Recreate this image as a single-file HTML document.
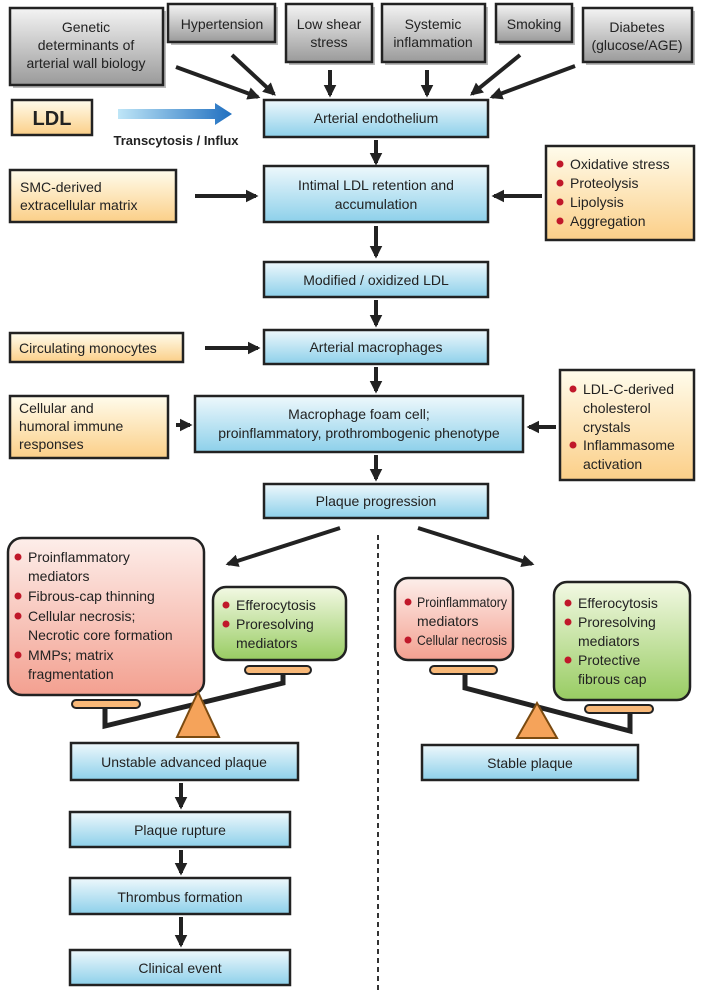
<!DOCTYPE html>
<html><head><meta charset="utf-8"><style>body{margin:0;background:#fff}svg{display:block}text{font-family:"Liberation Sans",sans-serif;font-size:14px;fill:#222}</style></head><body>
<svg width="707" height="1000" viewBox="0 0 707 1000" xmlns="http://www.w3.org/2000/svg">
<defs>
<linearGradient id="bl" x1="0" y1="0" x2="0" y2="1"><stop offset="0" stop-color="#eef8fc"/><stop offset="1" stop-color="#8dd0ea"/></linearGradient>
<linearGradient id="gr" x1="0" y1="0" x2="0" y2="1"><stop offset="0" stop-color="#f4f4f4"/><stop offset="1" stop-color="#9a9a9a"/></linearGradient>
<linearGradient id="ye" x1="0" y1="0" x2="0" y2="1"><stop offset="0" stop-color="#fffcec"/><stop offset="1" stop-color="#fbcf88"/></linearGradient>
<linearGradient id="rd" x1="0" y1="0" x2="0" y2="1"><stop offset="0" stop-color="#fdeeea"/><stop offset="1" stop-color="#f3a090"/></linearGradient>
<linearGradient id="gn" x1="0" y1="0" x2="0" y2="1"><stop offset="0" stop-color="#f3f9e4"/><stop offset="1" stop-color="#98cc62"/></linearGradient>
<linearGradient id="ar" x1="0" y1="0" x2="1" y2="0"><stop offset="0" stop-color="#bfe6f7"/><stop offset="1" stop-color="#1f6fc0"/></linearGradient>
<marker id="m" viewBox="0 0 10 10" refX="8" refY="5" markerWidth="3.2" markerHeight="3.2" orient="auto"><path d="M0,0L10,5L0,10z" fill="#222"/></marker>
</defs>
<g stroke="#222" stroke-width="2.5">
<g fill="#bbb" stroke="none">
<rect x="13" y="11" width="153" height="77"/><rect x="171" y="7" width="107" height="38"/><rect x="289" y="7" width="86" height="58"/><rect x="385" y="7" width="103" height="58"/><rect x="499" y="7" width="76" height="38"/><rect x="586" y="11" width="109" height="54"/>
</g>
<rect x="10" y="8" width="153" height="77" fill="url(#gr)"/>
<rect x="168" y="4" width="107" height="38" fill="url(#gr)"/>
<rect x="286" y="4" width="86" height="58" fill="url(#gr)"/>
<rect x="382" y="4" width="103" height="58" fill="url(#gr)"/>
<rect x="496" y="4" width="76" height="38" fill="url(#gr)"/>
<rect x="583" y="8" width="109" height="54" fill="url(#gr)"/>
<rect x="12" y="100" width="80" height="35" fill="url(#ye)"/>
<rect x="10" y="170" width="166" height="52" fill="url(#ye)"/>
<rect x="546" y="146" width="148" height="94" fill="url(#ye)"/>
<rect x="10" y="333" width="173" height="29" fill="url(#ye)"/>
<rect x="10" y="396" width="158" height="62" fill="url(#ye)"/>
<rect x="560" y="370" width="134" height="110" fill="url(#ye)"/>
<rect x="264" y="100" width="224" height="37" fill="url(#bl)"/>
<rect x="264" y="166" width="224" height="56" fill="url(#bl)"/>
<rect x="264" y="262" width="224" height="35" fill="url(#bl)"/>
<rect x="264" y="330" width="224" height="34" fill="url(#bl)"/>
<rect x="195" y="396" width="328" height="56" fill="url(#bl)"/>
<rect x="264" y="484" width="224" height="34" fill="url(#bl)"/>
<rect x="71" y="743" width="227" height="37" fill="url(#bl)"/>
<rect x="422" y="745" width="216" height="35" fill="url(#bl)"/>
<rect x="70" y="812" width="220" height="35" fill="url(#bl)"/>
<rect x="70" y="878" width="220" height="36" fill="url(#bl)"/>
<rect x="70" y="950" width="220" height="35" fill="url(#bl)"/>
<rect x="8" y="538" width="196" height="157" rx="14" fill="url(#rd)"/>
<rect x="213" y="587" width="133" height="73" rx="13" fill="url(#gn)"/>
<rect x="395" y="578" width="118" height="82" rx="13" fill="url(#rd)"/>
<rect x="554" y="582" width="136" height="118" rx="13" fill="url(#gn)"/>
<rect x="72" y="700" width="68" height="8" rx="4" fill="#f8b878" stroke-width="2"/>
<rect x="245" y="666" width="66" height="8" rx="4" fill="#f8b878" stroke-width="2"/>
<polyline points="105,708 105,726 283,683 283,674" fill="none" stroke-width="5"/>
<polygon points="198,692 177,737 219,737" fill="#f5a35a" stroke="#7a4a10" stroke-width="2"/>
<rect x="430" y="666" width="67" height="8" rx="4" fill="#f8b878" stroke-width="2"/>
<rect x="585" y="705" width="68" height="8" rx="4" fill="#f8b878" stroke-width="2"/>
<polyline points="465,674 465,688 630,731 630,713" fill="none" stroke-width="5"/>
<polygon points="537,703 517,738 557,738" fill="#f5a35a" stroke="#7a4a10" stroke-width="2"/>
</g>
<g stroke="#222" stroke-width="4" marker-end="url(#m)" fill="none">
<line x1="176" y1="67" x2="258" y2="97"/><line x1="232" y1="55" x2="274" y2="94"/>
<line x1="330" y1="70" x2="330" y2="95"/><line x1="427" y1="70" x2="427" y2="95"/>
<line x1="520" y1="55" x2="472" y2="94"/><line x1="575" y1="66" x2="492" y2="97"/>
<line x1="376" y1="140" x2="376" y2="163"/><line x1="195" y1="196" x2="256" y2="196"/>
<line x1="542" y1="196" x2="494" y2="196"/><line x1="376" y1="226" x2="376" y2="256"/>
<line x1="376" y1="300" x2="376" y2="325"/><line x1="205" y1="348" x2="258" y2="348"/>
<line x1="376" y1="367" x2="376" y2="391"/><line x1="176" y1="425" x2="190" y2="425"/>
<line x1="556" y1="427" x2="529" y2="427"/><line x1="376" y1="455" x2="376" y2="479"/>
<line x1="340" y1="528" x2="228" y2="564"/><line x1="418" y1="528" x2="532" y2="564"/>
<line x1="181" y1="783" x2="181" y2="807"/><line x1="181" y1="850" x2="181" y2="873"/>
<line x1="181" y1="917" x2="181" y2="945"/>
</g>
<polygon points="118,109 215,109 215,103 232,114 215,125 215,119 118,119" fill="url(#ar)"/>
<line x1="378" y1="535" x2="378" y2="992" stroke="#333" stroke-width="2" stroke-dasharray="5,4"/>
<g text-anchor="middle">
<text x="86" y="32">Genetic</text><text x="86" y="50">determinants of</text><text x="86" y="68">arterial wall biology</text>
<text x="222" y="29">Hypertension</text>
<text x="329" y="29">Low shear</text><text x="329" y="47">stress</text>
<text x="433" y="29">Systemic</text><text x="433" y="47">inflammation</text>
<text x="534" y="29">Smoking</text>
<text x="637" y="32">Diabetes</text><text x="637" y="50">(glucose/AGE)</text>
<text x="52" y="125" style="font-size:20px;font-weight:bold">LDL</text>
<text x="176" y="145" style="font-size:13px;font-weight:bold">Transcytosis / Influx</text>
<text x="376" y="123">Arterial endothelium</text>
<text x="376" y="190">Intimal LDL retention and</text><text x="376" y="209">accumulation</text>
<text x="376" y="285">Modified / oxidized LDL</text>
<text x="376" y="352">Arterial macrophages</text>
<text x="359" y="419">Macrophage foam cell;</text><text x="359" y="438">proinflammatory, prothrombogenic phenotype</text>
<text x="376" y="506">Plaque progression</text>
<text x="184" y="767">Unstable advanced plaque</text>
<text x="530" y="768">Stable plaque</text>
<text x="180" y="835">Plaque rupture</text>
<text x="180" y="902">Thrombus formation</text>
<text x="180" y="973">Clinical event</text>
</g>
<text x="20" y="192">SMC-derived</text><text x="20" y="210">extracellular matrix</text>
<text x="19" y="353">Circulating monocytes</text>
<text x="19" y="413">Cellular and</text><text x="19" y="431">humoral immune</text><text x="19" y="449">responses</text>
<g fill="#c0182a">
<circle cx="560" cy="164" r="3.5"/><circle cx="560" cy="183" r="3.5"/><circle cx="560" cy="202" r="3.5"/><circle cx="560" cy="221" r="3.5"/>
<circle cx="573" cy="389" r="3.5"/><circle cx="573" cy="445" r="3.5"/>
<circle cx="18" cy="557" r="3.5"/><circle cx="18" cy="596" r="3.5"/><circle cx="18" cy="616" r="3.5"/><circle cx="18" cy="655" r="3.5"/>
<circle cx="226" cy="605" r="3.5"/><circle cx="226" cy="624" r="3.5"/>
<circle cx="408" cy="602" r="3.5"/><circle cx="408" cy="640" r="3.5"/>
<circle cx="568" cy="603" r="3.5"/><circle cx="568" cy="622" r="3.5"/><circle cx="568" cy="660" r="3.5"/>
</g>
<g>
<text x="570" y="169">Oxidative stress</text><text x="570" y="188">Proteolysis</text><text x="570" y="207">Lipolysis</text><text x="570" y="226">Aggregation</text>
<text x="583" y="394">LDL-C-derived</text><text x="583" y="413">cholesterol</text><text x="583" y="432">crystals</text><text x="583" y="450">Inflammasome</text><text x="583" y="469">activation</text>
<text x="28" y="562">Proinflammatory</text><text x="28" y="581">mediators</text><text x="28" y="601">Fibrous-cap thinning</text><text x="28" y="621">Cellular necrosis;</text><text x="28" y="640">Necrotic core formation</text><text x="28" y="660">MMPs; matrix</text><text x="28" y="679">fragmentation</text>
<text x="236" y="610">Efferocytosis</text><text x="236" y="629">Proresolving</text><text x="236" y="648">mediators</text>
<text x="417" y="607" textLength="90" lengthAdjust="spacingAndGlyphs">Proinflammatory</text><text x="417" y="626">mediators</text><text x="417" y="645" textLength="90" lengthAdjust="spacingAndGlyphs">Cellular necrosis</text>
<text x="578" y="608">Efferocytosis</text><text x="578" y="627">Proresolving</text><text x="578" y="646">mediators</text><text x="578" y="665">Protective</text><text x="578" y="684">fibrous cap</text>
</g>
</svg>
</body></html>
